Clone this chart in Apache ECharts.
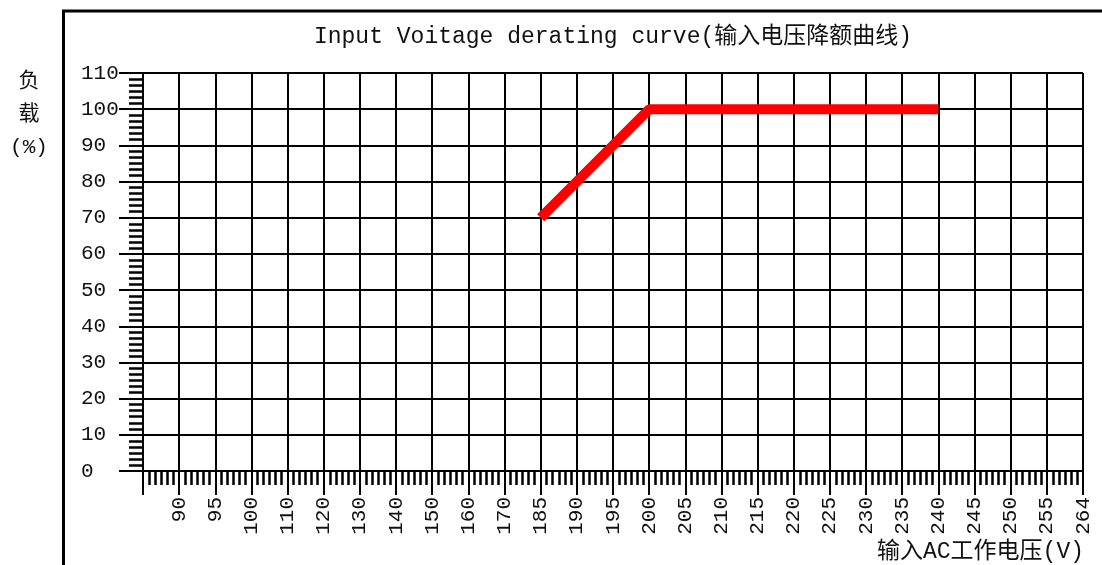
<!DOCTYPE html>
<html>
<head>
<meta charset="utf-8">
<script src="https://cdn.jsdelivr.net/npm/echarts@6/dist/echarts.min.js"></script>
<style>
html,body{margin:0;padding:0;background:#fff;}
#main{width:1102px;height:565px;}
</style>
</head>
<body>
<div id="main"></div>
<script>
// x-axis tick labels (category-like positions, first slot unlabeled)
var xLabels = ['', '90', '95', '100', '110', '120', '130', '140', '150', '160', '170', '185', '190', '195', '200', '205', '210', '215', '220', '225', '230', '235', '240', '245', '250', '255', '264'];
// derating curve points
var voltage = [185, 200, 240];
var load = [70, 100, 100];
// y-axis range
var yMin = 0, yMax = 110, yStep = 10;

var titleText = 'Input Voitage derating curve(输入电压降额曲线)';
var xName = '输入AC工作电压(V)';
var yNameLines = ['负', '载', '(%)'];

var FONT = '"Liberation Mono", "Noto Sans CJK SC", monospace';
var TXT = '#111';

var chart = echarts.init(document.getElementById('main'), null, {renderer: 'canvas'});

var seriesData = voltage.map(function (v, i) {
  return [xLabels.indexOf(String(v)), load[i]];
});

var option = {
  animation: false,
  backgroundColor: '#fff',
  title: [
    {text: titleText, left: 608, top: 20, textAlign: 'center',
     textStyle: {fontFamily: FONT, fontSize: 23, fontWeight: 'normal', color: TXT}},
    {text: xName, right: 13, top: 535,
     textStyle: {fontFamily: FONT, fontSize: 23, fontWeight: 'normal', color: TXT}},
    {text: yNameLines.join('\n'), left: 24, top: 60, textAlign: 'center',
     textStyle: {fontFamily: FONT, fontSize: 21, fontWeight: 'normal', color: TXT, lineHeight: 33}}
  ],
  graphic: [
    {type: 'rect', shape: {x: 63.5, y: 11, width: 1200, height: 700},
     style: {fill: 'none', stroke: '#000', lineWidth: 3}, silent: true, z: 0}
  ],
  grid: {left: 143, right: 19, top: 73, bottom: 94, containLabel: false},
  xAxis: {
    type: 'value',
    min: 0, max: xLabels.length - 1, interval: 1,
    axisLine: {show: true, lineStyle: {color: '#000', width: 2}},
    axisTick: {show: true, length: 24, lineStyle: {color: '#000', width: 2}},
    minorTick: {show: true, splitNumber: 6, length: 14, lineStyle: {color: '#000', width: 2.5}},
    splitLine: {show: true, lineStyle: {color: '#000', width: 2}},
    axisLabel: {
      show: true, rotate: 90, margin: 26,
      fontFamily: FONT, fontSize: 21, color: TXT,
      showMinLabel: true, showMaxLabel: true,
      formatter: function (v) { return xLabels[Math.round(v)] || ''; }
    }
  },
  yAxis: {
    type: 'value',
    min: yMin, max: yMax, interval: yStep,
    axisLine: {show: true, lineStyle: {color: '#000', width: 2}},
    axisTick: {show: true, length: 24, lineStyle: {color: '#000', width: 2}},
    minorTick: {show: true, splitNumber: 6, length: 14, lineStyle: {color: '#000', width: 2.5}},
    splitLine: {show: true, lineStyle: {color: '#000', width: 2}},
    axisLabel: {
      show: true, align: 'left', margin: 62,
      fontFamily: FONT, fontSize: 21, color: TXT
    }
  },
  series: [{
    type: 'line',
    data: seriesData,
    showSymbol: false,
    symbol: 'none',
    lineStyle: {color: '#ff0000', width: 10},
    z: 5
  }]
};
chart.setOption(option);
</script>
</body>
</html>
